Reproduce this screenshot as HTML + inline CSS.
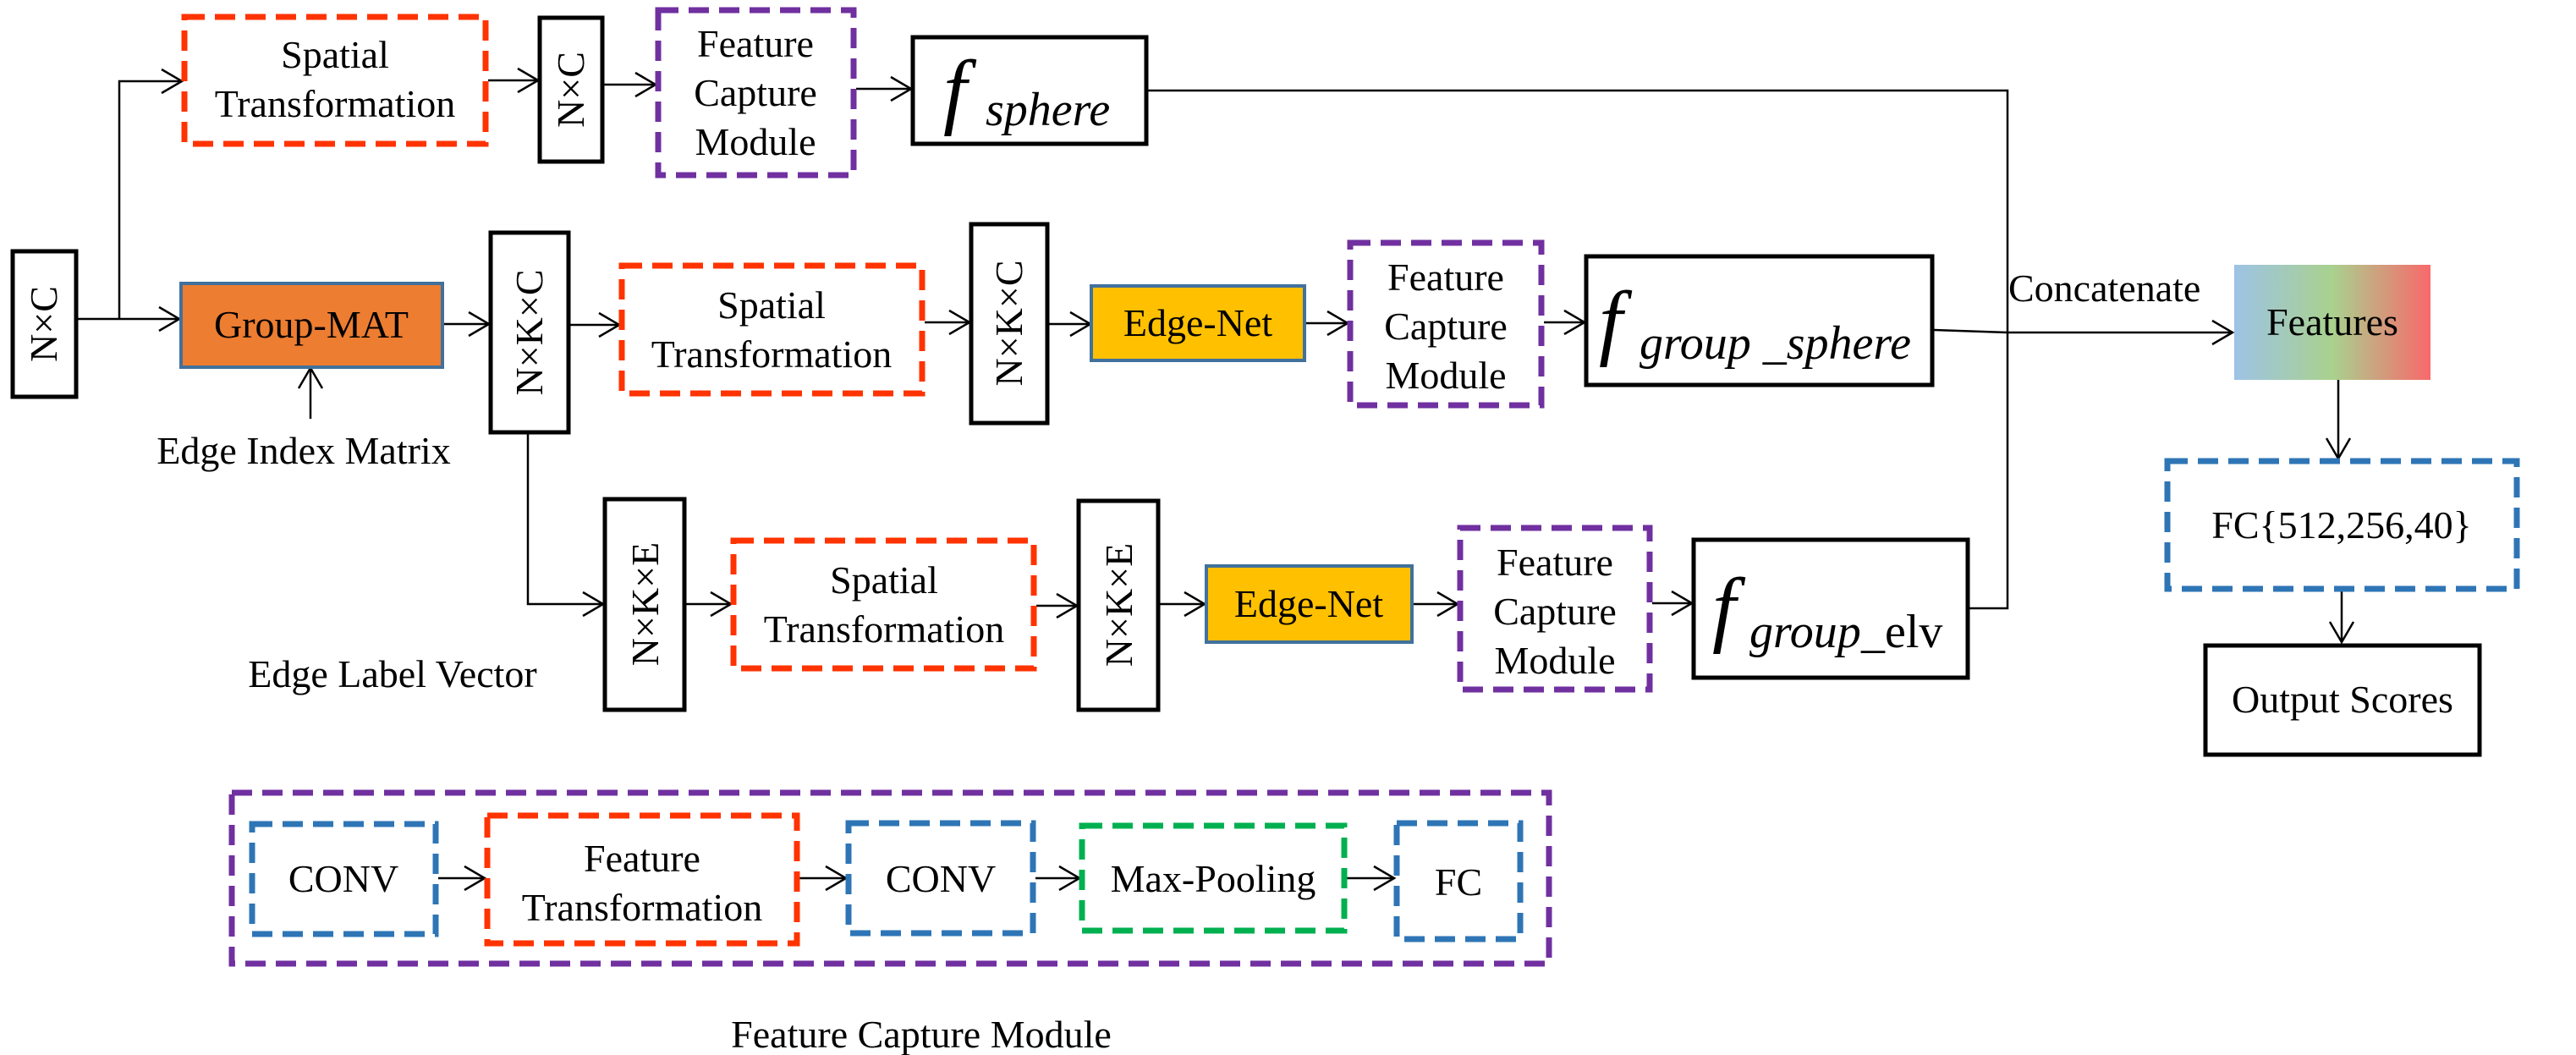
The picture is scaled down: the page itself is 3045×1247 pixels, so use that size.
<!DOCTYPE html>
<html><head><meta charset="utf-8"><style>
html,body{margin:0;padding:0;background:#fff;}
svg{display:block;}
svg text{font-family:"Liberation Serif","DejaVu Serif",serif !important;fill:#000;}
</style></head><body>
<svg width="3045" height="1247" viewBox="0 0 3045 1247" xmlns="http://www.w3.org/2000/svg" font-family="Liberation Serif, serif">
<g fill="none" stroke="#000" stroke-width="2.5">
<path d="M91 377 H212"/><path d="M188 363 L212 377 L188 391"/>
<path d="M141 377 V96 H215"/><path d="M191 82 L215 96 L191 110"/>
<path d="M577 95 H636"/><path d="M612 81 L636 95 L612 109"/>
<path d="M713 100 H775"/><path d="M751 86 L775 100 L751 114"/>
<path d="M1012 105 H1077"/><path d="M1053 91 L1077 105 L1053 119"/>
<path d="M1357 107 H2373 V719 H2328"/>
<path d="M524 383 H578"/><path d="M554 369 L578 383 L554 397"/>
<path d="M673 384 H732"/><path d="M708 370 L732 384 L708 398"/>
<path d="M1093 381 H1146"/><path d="M1122 367 L1146 381 L1122 395"/>
<path d="M1239 383 H1289"/><path d="M1265 369 L1289 383 L1265 397"/>
<path d="M1543 382 H1593"/><path d="M1569 368 L1593 382 L1569 396"/>
<path d="M1825 381 H1873"/><path d="M1849 367 L1873 381 L1849 395"/>
<path d="M2285 390 L2373 393 H2639"/><path d="M2615 379 L2639 393 L2615 407"/>
<path d="M2764 449 V542"/><path d="M2750 518 L2764 542 L2778 518"/>
<path d="M2768 699 V759"/><path d="M2754 735 L2768 759 L2782 735"/>
<path d="M367 495 V435"/><path d="M353 459 L367 435 L381 459"/>
<path d="M624 512 V714 H713"/><path d="M689 700 L713 714 L689 728"/>
<path d="M810 714 H864"/><path d="M840 700 L864 714 L840 728"/>
<path d="M1225 716 H1273"/><path d="M1249 702 L1273 716 L1249 730"/>
<path d="M1370 714 H1424"/><path d="M1400 700 L1424 714 L1400 728"/>
<path d="M1670 714 H1723"/><path d="M1699 700 L1723 714 L1699 728"/>
<path d="M1953 713 H2000"/><path d="M1976 699 L2000 713 L1976 727"/>
<path d="M518 1038 H573"/><path d="M549 1024 L573 1038 L549 1052"/>
<path d="M945 1038 H1000"/><path d="M976 1024 L1000 1038 L976 1052"/>
<path d="M1224 1038 H1276"/><path d="M1252 1024 L1276 1038 L1252 1052"/>
<path d="M1592 1038 H1648"/><path d="M1624 1024 L1648 1038 L1624 1052"/>
</g>
<defs><linearGradient id="gr" x1="0" x2="1" y1="0" y2="0">
<stop offset="0" stop-color="#9DC3E6"/><stop offset="0.5" stop-color="#A9D18E"/><stop offset="1" stop-color="#F8696B"/></linearGradient></defs>
<g fill="#fff" stroke="#000" stroke-width="5">
<rect x="15" y="297" width="75" height="172"/>
<rect x="638" y="21" width="74" height="170"/>
<rect x="1079" y="44" width="276" height="126"/>
<rect x="580" y="275" width="92" height="236"/>
<rect x="1148" y="265" width="90" height="235"/>
<rect x="1875" y="303" width="409" height="152"/>
<rect x="715" y="590" width="94" height="249"/>
<rect x="1275" y="592" width="94" height="247"/>
<rect x="2002" y="638" width="324" height="163"/>
<rect x="2607" y="763" width="324" height="129"/>
</g>
<rect x="214" y="335" width="309" height="99" fill="#ED7D31" stroke="#41719C" stroke-width="4"/>
<rect x="1290" y="338" width="252" height="88" fill="#FFC000" stroke="#41719C" stroke-width="4"/>
<rect x="1426" y="669" width="243" height="90" fill="#FFC000" stroke="#41719C" stroke-width="4"/>
<rect x="2641" y="313" width="232" height="136" fill="url(#gr)"/>
<g fill="none" stroke-width="7" stroke-dasharray="24 12">
<rect x="218" y="20" width="356" height="150" stroke="#FF3300"/>
<rect x="778" y="12" width="231" height="195" stroke="#7030A0"/>
<rect x="735" y="314" width="355" height="151" stroke="#FF3300"/>
<rect x="1596" y="287" width="226" height="192" stroke="#7030A0"/>
<rect x="867" y="639" width="355" height="151" stroke="#FF3300"/>
<rect x="1726" y="624" width="224" height="191" stroke="#7030A0"/>
<rect x="2562" y="545" width="413" height="151" stroke="#2E75B6"/>
<rect x="274" y="937" width="1557" height="202" stroke="#7030A0"/>
<rect x="298" y="974" width="217" height="130" stroke="#2E75B6"/>
<rect x="576" y="964" width="366" height="151" stroke="#FF3300"/>
<rect x="1003" y="973" width="218" height="130" stroke="#2E75B6"/>
<rect x="1279" y="976" width="310" height="124" stroke="#00B050"/>
<rect x="1651" y="973" width="146" height="137" stroke="#2E75B6"/>
</g>
<g font-size="46" text-anchor="middle" font-family="Liberation Serif, serif">
<text x="396" y="80">Spatial</text><text x="396" y="138">Transformation</text>
<text x="893" y="67">Feature</text><text x="893" y="125">Capture</text><text x="893" y="183">Module</text>
<text x="368" y="399">Group-MAT</text>
<text x="912" y="376">Spatial</text><text x="912" y="434">Transformation</text>
<text x="1416" y="397">Edge-Net</text>
<text x="1709" y="343">Feature</text><text x="1709" y="401">Capture</text><text x="1709" y="459">Module</text>
<text x="1045" y="701">Spatial</text><text x="1045" y="759">Transformation</text>
<text x="1547" y="729">Edge-Net</text>
<text x="1838" y="680">Feature</text><text x="1838" y="738">Capture</text><text x="1838" y="796">Module</text>
<text x="359" y="548">Edge Index Matrix</text>
<text x="464" y="812">Edge Label Vector</text>
<text x="2757" y="396">Features</text>
<text x="2768" y="636">FC{512,256,40}</text>
<text x="2769" y="842">Output Scores</text>
<text x="406" y="1054">CONV</text>
<text x="759" y="1030">Feature</text><text x="759" y="1088">Transformation</text>
<text x="1112" y="1054">CONV</text>
<text x="1434" y="1054">Max-Pooling</text>
<text x="1724" y="1058">FC</text>
<text x="1089" y="1238">Feature Capture Module</text>
<text transform="translate(67 383) rotate(-90)">N×C</text>
<text transform="translate(690 106) rotate(-90)">N×C</text>
<text transform="translate(641 393) rotate(-90)">N×K×C</text>
<text transform="translate(1208 382) rotate(-90)">N×K×C</text>
<text transform="translate(778 714) rotate(-90)">N×K×E</text>
<text transform="translate(1338 715) rotate(-90)">N×K×E</text>
</g>
<text x="2374" y="356" font-size="46" font-family="Liberation Serif, serif">Concatenate</text>
<g font-style="italic" font-family="Liberation Serif, serif">
<text x="1115" y="140" font-size="100">f</text><text x="1165" y="148" font-size="56">sphere</text>
<text x="1890" y="413" font-size="100">f</text><text x="1938" y="424" font-size="56">group _sphere</text>
<text x="2024" y="752" font-size="100">f</text><text x="2068" y="765" font-size="56">group</text>
</g>
<text x="2200" y="765" font-size="56" font-family="Liberation Serif, serif">_elv</text>
</svg>
</body></html>
